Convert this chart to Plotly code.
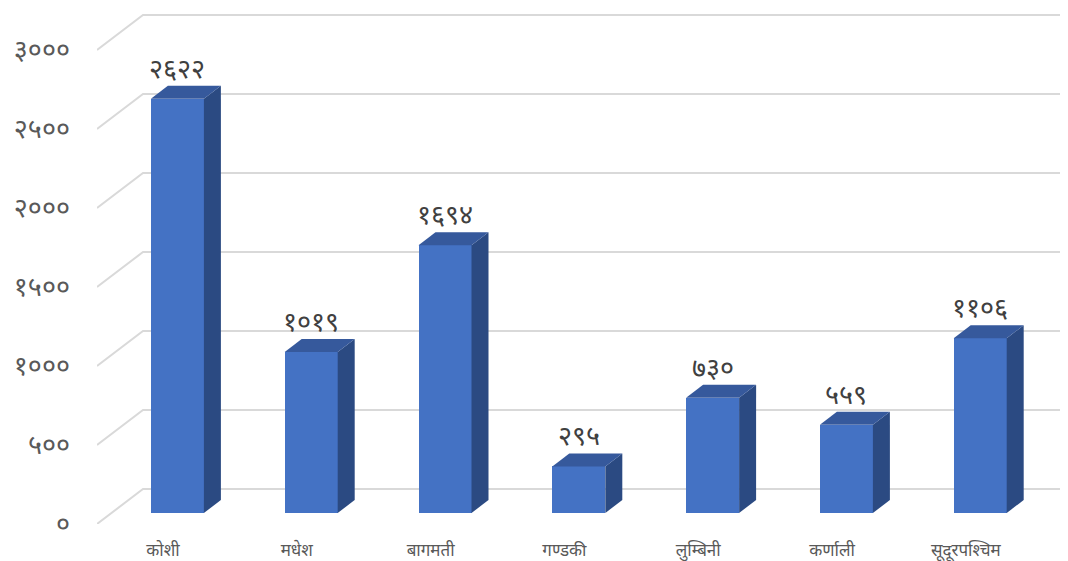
import plotly.graph_objects as go

# ---- data ----
categories = ["कोशी", "मधेश", "बागमती", "गण्डकी", "लुम्बिनी", "कर्णाली", "सूदूरपश्चिम"]
values = [2622, 1019, 1694, 295, 730, 559, 1106]
y_ticks = [0, 500, 1000, 1500, 2000, 2500, 3000]

DEV = "०१२३४५६७८९"
def dev(n):
    return "".join(DEV[int(c)] for c in str(n))

# page offset (browser body margin)
OFF = 8

# ---- geometry (pseudo-3D) ----
PX_PER_CAT = 133.8          # px per category step
PX_PER_VAL = 0.158          # px per value unit
def ux(px): return px / PX_PER_CAT
def uy(px): return px / PX_PER_VAL

PLOT_L, PLOT_R, PLOT_T, PLOT_B = 97, 1068, OFF, 524   # target window px
X_LEFT = ux(PLOT_L - 163)       # left edge of plot area in category units
X_RIGHT = ux(PLOT_R - 163)
WALL_DX, WALL_DY = ux(46), uy(35)   # full depth (front plane -> back wall)
FX, FY = ux(14.4), uy(11)           # bar front plane offset
BX, BY = ux(17), uy(13)             # bar depth
HW = ux(53) / 2                      # half bar width

FRONT = "#4472C4"
SIDE = "#2B4A82"
TOP = "#36599C"

fig = go.Figure()

# gridlines (front-left diagonal + back wall horizontal)
shapes = []
for v in y_ticks:
    path = (f"M {X_LEFT},{v} L {X_LEFT + WALL_DX},{v + WALL_DY} "
            f"L {X_RIGHT},{v + WALL_DY}")
    shapes.append(dict(type="path", path=path, xref="x", yref="y",
                       line=dict(color="#D9D9D9", width=2), layer="below"))

# front faces
xs = [i + FX for i in range(len(values))]
fig.add_trace(go.Bar(x=xs, y=values, base=[FY] * len(values), width=2 * HW,
                     marker=dict(color=FRONT, line=dict(width=0)),
                     hoverinfo="skip", showlegend=False))

# side and top faces
for i, v in enumerate(values):
    xl = xs[i] - HW
    xr = xs[i] + HW
    fig.add_trace(go.Scatter(
        x=[xr, xr + BX, xr + BX, xr, xr],
        y=[FY, FY + BY, FY + v + BY, FY + v, FY],
        fill="toself", fillcolor=SIDE, mode="lines",
        line=dict(width=0, color=SIDE), hoverinfo="skip", showlegend=False))
    fig.add_trace(go.Scatter(
        x=[xl, xr, xr + BX, xl + BX, xl],
        y=[FY + v, FY + v, FY + v + BY, FY + v + BY, FY + v],
        fill="toself", fillcolor=TOP, mode="lines",
        line=dict(width=0, color=TOP), hoverinfo="skip", showlegend=False))

annotations = []
for i, v in enumerate(values):
    annotations.append(dict(x=xs[i], y=FY + v + BY, xref="x", yref="y",
                            text=dev(v), showarrow=False, yanchor="bottom",
                            yshift=-2, font=dict(size=27, color="#404040")))

fig.update_layout(
    width=1068, height=561,
    margin=dict(l=PLOT_L - OFF, r=OFF, t=0, b=561 + OFF - PLOT_B),
    paper_bgcolor="white", plot_bgcolor="white",
    font=dict(family="Noto Sans, sans-serif", color="#595959"),
    shapes=shapes, annotations=annotations,
    bargap=0,
    xaxis=dict(range=[X_LEFT, X_RIGHT], tickmode="array",
               tickvals=list(range(len(categories))), ticktext=categories,
               tickfont=dict(size=17, color="#595959"),
               showgrid=False, zeroline=False, showline=False,
               ticks="", ticklabelstandoff=14, fixedrange=True),
    yaxis=dict(range=[0, uy(PLOT_B - PLOT_T)], tickmode="array", tickvals=y_ticks,
               ticktext=[dev(t) for t in y_ticks],
               tickfont=dict(size=27, color="#595959"),
               showgrid=False, zeroline=False, showline=False,
               ticks="", ticklabelstandoff=26, fixedrange=True),
)

fig.write_html("out.html")
